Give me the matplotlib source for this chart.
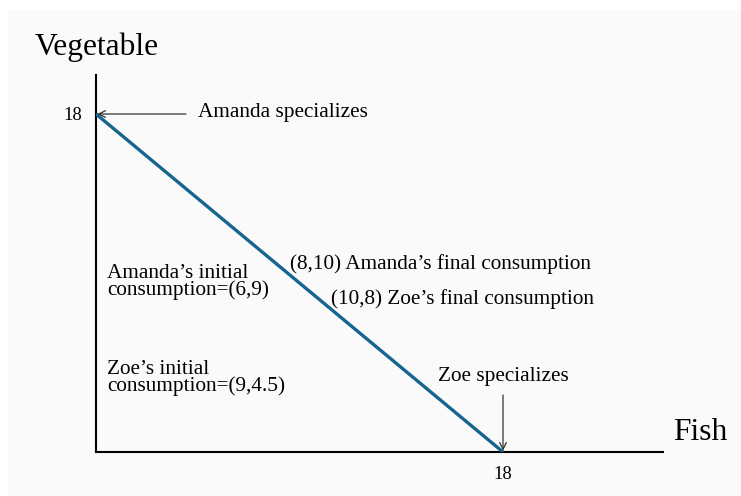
import matplotlib
matplotlib.use("Agg")
import matplotlib.pyplot as plt
from matplotlib.patches import Rectangle

# Data
ppf_fish = [0, 18]
ppf_veg = [18, 0]
x_ticks = [18]
y_ticks = [18]
x_label = "Fish"
y_label = "Vegetable"
labels = {
    "amanda_spec": "Amanda specializes",
    "zoe_spec": "Zoe specializes",
    "amanda_final": "(8,10) Amanda\u2019s final consumption",
    "zoe_final": "(10,8) Zoe\u2019s final consumption",
    "amanda_init": "Amanda\u2019s initial\nconsumption=(6,9)",
    "zoe_init": "Zoe\u2019s initial\nconsumption=(9,4.5)",
}

W, H = 741, 496
plt.rcParams['font.family'] = ['Liberation Serif', 'DejaVu Serif']
fig = plt.figure(figsize=(W / 100, H / 100), dpi=100, facecolor='white')

def fx(x):
    return x / W

def fy(y):
    return 1 - y / H

# light panel background
fig.patches.append(Rectangle((fx(8), 0), 1 - fx(8), fy(10), transform=fig.transFigure,
                             facecolor='#fafafa', edgecolor='none', zorder=-10))

ax = fig.add_axes([fx(96), fy(452), fx(663) - fx(96), fy(75) - fy(452)])
ax.set_facecolor('none')
ax.set_xlim(0, 18 * (663 - 96) / (503 - 96))
ax.set_ylim(0, 18 * (452 - 75) / (452 - 114))

ax.plot(ppf_fish, ppf_veg, color='#17658f', lw=2.4, solid_capstyle='butt', zorder=3)

for s in ['top', 'right']:
    ax.spines[s].set_visible(False)
for s in ['left', 'bottom']:
    ax.spines[s].set_linewidth(1.5)
    ax.spines[s].set_color('black')

ax.set_xticks(x_ticks)
ax.set_xticklabels([str(t) for t in x_ticks], fontsize=13.5)
ax.set_yticks(y_ticks)
ax.set_yticklabels([str(t) for t in y_ticks], fontsize=13.5)
ax.tick_params(length=0, pad=10)

fs = 15.3
# axis titles
fig.text(fx(35), fy(47), y_label, fontsize=22.7, ha='left', va='center')
fig.text(fx(673), fy(432), x_label, fontsize=22.7, ha='left', va='center')

arrow = dict(arrowstyle='->', color='#333333', lw=0.9, shrinkA=0, shrinkB=1,
             mutation_scale=12)
# Amanda specializes
fig.text(fx(198), fy(113), labels["amanda_spec"], fontsize=fs, ha='left', va='center')
ax.annotate('', xy=(0, 18), xytext=(fx(186), fy(114)),
            textcoords='figure fraction', arrowprops=arrow)
# Zoe specializes
fig.text(fx(503), fy(376), labels["zoe_spec"], fontsize=fs, ha='center', va='center')
ax.annotate('', xy=(18, 0), xytext=(fx(503), fy(395)),
            textcoords='figure fraction', arrowprops=arrow)

fig.text(fx(290), fy(264), labels["amanda_final"], fontsize=fs, ha='left', va='center')
fig.text(fx(331), fy(299), labels["zoe_final"], fontsize=fs, ha='left', va='center')
fig.text(fx(107), fy(282), labels["amanda_init"], fontsize=fs, ha='left', va='center',
         linespacing=0.82)
fig.text(fx(107), fy(378), labels["zoe_init"], fontsize=fs, ha='left', va='center',
         linespacing=0.82)

fig.savefig("out.png", dpi=100, facecolor='white')
